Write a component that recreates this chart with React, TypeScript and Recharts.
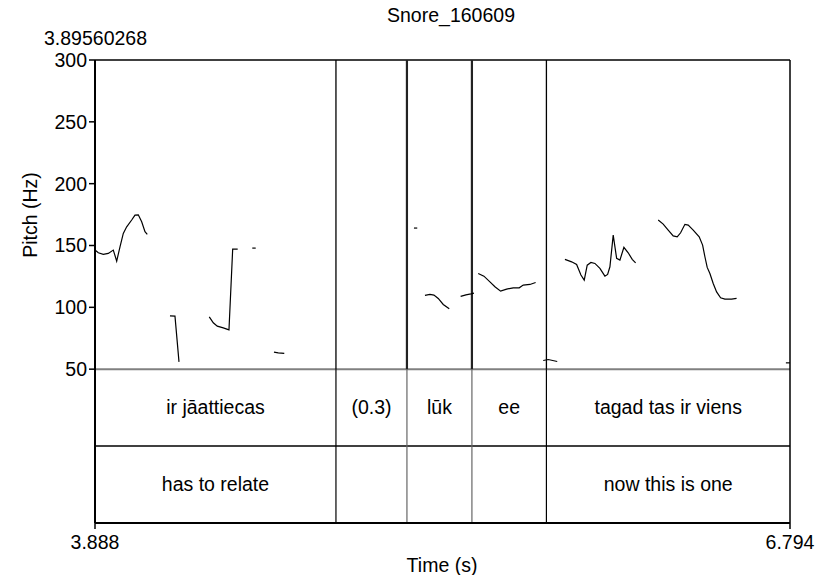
import React from 'react';
import { LineChart, Line, XAxis, YAxis, ReferenceLine, ReferenceArea } from 'recharts';

const FONT = '"Liberation Sans", Arial, Helvetica, sans-serif';

const chartTitle = 'Snore_160609';
const cursorLabel = '3.89560268';
const xTicks = [3.888, 6.794];
const yTicks = [50, 100, 150, 200, 250, 300];
const Y_MIN = -74.4;
const TIER_SPLIT = -12.1;

const seg1 = [[3.888,146.3],[3.9018,144.1],[3.9227,142.8],[3.9436,143.6],[3.9645,146.3],[3.9787,137.4],[3.9925,148.9],[4.0063,159.8],[4.0205,165.1],[4.0414,170.6],[4.0552,174.6],[4.069,174.8],[4.0832,169.2],[4.097,161.1],[4.1066,159.0]];
const seg2 = [[4.2015,93.1],[4.2224,92.9],[4.2392,55.9]];
const seg3 = [[4.3658,92.3],[4.3826,87.5],[4.3993,84.8],[4.4244,83.4],[4.4482,81.8],[4.4637,147.1],[4.4846,147.1]];
const seg4 = [[4.5456,147.9],[4.5598,147.9]];
const seg5 = [[4.6363,63.8],[4.6543,63.2],[4.6794,62.7]];
const seg6 = [[5.2216,164.1],[5.2354,164.1]];
const seg7 = [[5.2676,109.6],[5.2885,110.4],[5.3052,109.9],[5.3232,107.2],[5.3441,102.3],[5.3692,98.8]];
const seg8 = [[5.4168,108.8],[5.439,110.1],[5.4599,110.9],[5.4724,111.5]];
const seg9 = [[5.4904,127.4],[5.5142,125.2],[5.5393,120.6],[5.5602,116.6],[5.584,113.1],[5.6091,114.7],[5.6367,115.8],[5.6618,115.8],[5.6785,118.0],[5.7066,118.5],[5.7304,120.1]];
const seg10 = [[5.7622,57.0],[5.7831,57.8],[5.8207,56.2]];
const seg11 = [[6.7768,55.1],[6.794,55.1]];
const seg12 = [[5.8529,138.8],[5.8809,136.8],[5.9018,134.7],[5.9198,126.1],[5.9336,122.0],[5.9461,134.1],[5.9616,136.3],[5.9783,135.5],[5.9992,131.5],[6.0201,125.2],[6.0314,126.6],[6.041,132.8],[6.0548,158.4],[6.0691,139.6],[6.0828,138.2],[6.0995,148.5],[6.1175,144.1],[6.1343,138.8],[6.1485,136.0]];
const seg13 = [[6.2429,170.6],[6.2638,167.3],[6.2847,162.5],[6.3056,157.8],[6.3224,157.0],[6.3366,160.3],[6.3546,167.1],[6.3684,166.5],[6.3893,162.5],[6.4143,157.0],[6.4286,150.3],[6.4382,140.9],[6.4478,132.3],[6.4591,127.4],[6.4729,119.3],[6.4871,112.5],[6.5038,107.7],[6.5218,106.6],[6.5498,106.6],[6.5707,107.2]];

const pitchSegments = [seg1, seg2, seg3, seg4, seg5, seg6, seg7, seg8, seg9, seg10, seg11, seg12, seg13];

const boundaries = [4.8955, 5.1923, 5.464, 5.7755];
const boundaryStrong = [false, true, true, false];

const tier1 = [
  { start: 3.888, end: 4.8955, text: 'ir jāattiecas' },
  { start: 4.8955, end: 5.1923, text: '(0.3)' },
  { start: 5.1923, end: 5.464, text: 'lūk' },
  { start: 5.464, end: 5.7755, text: 'ee' },
  { start: 5.7755, end: 6.794, text: 'tagad tas ir viens' },
];
const tier2 = [
  { start: 3.888, end: 4.8955, text: 'has to relate' },
  { start: 4.8955, end: 5.1923, text: '' },
  { start: 5.1923, end: 5.464, text: '' },
  { start: 5.464, end: 5.7755, text: '' },
  { start: 5.7755, end: 6.794, text: 'now this is one' },
];

const toPts = (a: number[][]) => a.map(([t, f]) => ({ t, f }));

const FS = 19.5;

export default function App() {
  return (
    <div style={{ position: 'absolute', left: 0, top: 0, width: 816, height: 575, background: '#fff', fontFamily: FONT }}>
      <LineChart width={816} height={575} margin={{ top: 60, right: 26, bottom: 0, left: 0 }}>
        <XAxis
          type="number"
          dataKey="t"
          domain={[3.888, 6.794]}
          ticks={xTicks}
          interval={0}
          allowDataOverflow
          tickFormatter={(v: number) => v.toFixed(3)}
          height={52}
          tickSize={6}
          tickMargin={6}
          axisLine={{ stroke: '#000', strokeWidth: 2 }}
          tickLine={{ stroke: '#000', strokeWidth: 1.5 }}
          tick={{ fill: '#000', fontSize: FS, fontFamily: FONT }}
        />
        <YAxis
          type="number"
          domain={[Y_MIN, 300]}
          ticks={yTicks}
          interval={0}
          allowDataOverflow
          width={95}
          tickSize={6}
          axisLine={{ stroke: '#000', strokeWidth: 2 }}
          tickLine={{ stroke: '#000', strokeWidth: 1.5 }}
          tick={{ fill: '#000', fontSize: FS, fontFamily: FONT }}
        />
        {tier1.map((iv, i) => (
          <ReferenceArea key={'t1' + i} x1={iv.start} x2={iv.end} y1={TIER_SPLIT} y2={50} fill="none" fillOpacity={0} stroke="none"
            label={{ value: iv.text, position: 'center', fill: '#000', fontSize: FS, fontFamily: FONT }} />
        ))}
        {tier2.map((iv, i) => (
          <ReferenceArea key={'t2' + i} x1={iv.start} x2={iv.end} y1={Y_MIN} y2={TIER_SPLIT} fill="none" fillOpacity={0} stroke="none"
            label={{ value: iv.text, position: 'center', fill: '#000', fontSize: FS, fontFamily: FONT }} />
        ))}
        <ReferenceLine y={50} stroke="#808080" strokeWidth={2} />
        <ReferenceLine y={TIER_SPLIT} stroke="#000" strokeWidth={1.5} />
        <ReferenceLine y={300} stroke="#000" strokeWidth={1.5} />
        <ReferenceLine x={6.794} stroke="#000" strokeWidth={1.5} />
        {boundaries.map((b, i) => (
          <ReferenceLine key={'bp' + i} segment={[{ x: b, y: 50 }, { x: b, y: 300 }]} stroke={boundaryStrong[i] ? '#222' : '#000'} strokeWidth={boundaryStrong[i] ? 2.2 : 1.3} />
        ))}
        {boundaries.map((b, i) => (
          <ReferenceLine key={'bt' + i} segment={[{ x: b, y: Y_MIN }, { x: b, y: 50 }]} stroke={boundaryStrong[i] ? '#666' : '#000'} strokeWidth={1.2} />
        ))}
        {pitchSegments.map((s, i) => (
          <Line key={'s' + i} data={toPts(s)} dataKey="f" type="linear" dot={false} activeDot={false}
            stroke="#000" strokeWidth={1.2} isAnimationActive={false} />
        ))}
      </LineChart>
      <div style={{ position: 'absolute', left: 451, top: 4, transform: 'translateX(-50%)', fontSize: FS, whiteSpace: 'nowrap', lineHeight: '22px' }}>{chartTitle}</div>
      <div style={{ position: 'absolute', left: 44, top: 27, fontSize: FS, whiteSpace: 'nowrap', lineHeight: '22px' }}>{cursorLabel}</div>
      <div style={{ position: 'absolute', left: 30, top: 215, transform: 'translate(-50%, -50%) rotate(-90deg)', fontSize: FS, whiteSpace: 'nowrap', lineHeight: '22px' }}>Pitch (Hz)</div>
      <div style={{ position: 'absolute', left: 442, top: 554, transform: 'translateX(-50%)', fontSize: FS, whiteSpace: 'nowrap', lineHeight: '22px' }}>Time (s)</div>
    </div>
  );
}
